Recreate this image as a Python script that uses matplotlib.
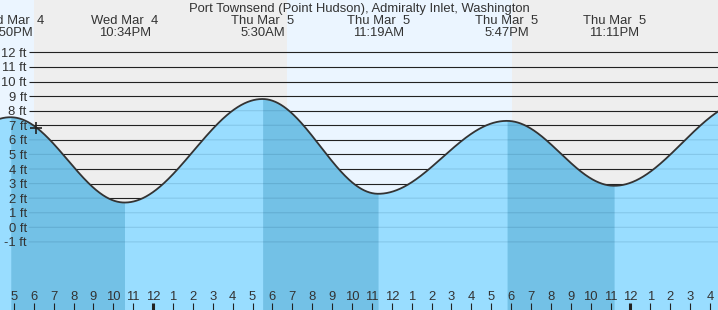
import matplotlib
matplotlib.use('Agg')
import matplotlib.pyplot as plt
import numpy as np
from datetime import datetime

plt.rcParams['font.family'] = ['Liberation Sans', 'DejaVu Sans']

# ---------------- data ----------------
title = "Port Townsend (Point Hudson), Admiralty Inlet, Washington"
extreme_times = ["2026-03-04 10:40", "2026-03-04 16:50", "2026-03-04 22:34",
                 "2026-03-05 05:30", "2026-03-05 11:19", "2026-03-05 17:47",
                 "2026-03-05 23:11", "2026-03-06 06:00"]
extreme_heights = [1.9, 7.55, 1.7, 8.8, 2.3, 7.3, 2.85, 8.7]
extreme_types = ["L", "H", "L", "H", "L", "H", "L", "H"]
sunset_times = ["2026-03-04 18:00", "2026-03-05 18:02"]
sunrise_times = ["2026-03-05 06:44", "2026-03-06 06:42"]
now_time = "2026-03-04 18:08"
view_start = "2026-03-04 16:18"
view_end = "2026-03-06 04:24"
ft_levels = list(range(-1, 13))

# ---------------- style ----------------
SKY_DAY = '#EBF5FF'
SKY_NIGHT = '#EEEEEE'
WATER_LIGHT = '#99DDFF'
WATER_DARK = '#73C1E6'
TXT = '#333333'
FS = 9.4

W, H = 718, 310
ORIGIN = datetime(2026, 3, 4)


def hrs(s):
    d = datetime.strptime(s, "%Y-%m-%d %H:%M")
    return (d - ORIGIN).total_seconds() / 3600.0


def fmt_day(s):
    d = datetime.strptime(s, "%Y-%m-%d %H:%M")
    return f"{d:%a %b} {d.day:2d}"


def fmt_time(s):
    d = datetime.strptime(s, "%Y-%m-%d %H:%M")
    return f"{d.hour % 12 or 12}:{d.minute:02d}{'AM' if d.hour < 12 else 'PM'}"


ex_t = np.array([hrs(s) for s in extreme_times])
ex_h = np.array(extreme_heights)
x0, x1 = hrs(view_start), hrs(view_end)
y0, y1 = -5.67, 15.59

# curve between successive extremes (half-cosine shape, as tide charts draw it)
t = np.linspace(x0, x1, 3000)
idx = np.clip(np.searchsorted(ex_t, t) - 1, 0, len(ex_t) - 2)
ta, tb = ex_t[idx], ex_t[idx + 1]
ha, hb = ex_h[idx], ex_h[idx + 1]
frac = (t - ta) / (tb - ta)
h = ha + (hb - ha) * (1 - np.cos(np.pi * frac)) / 2


def curve_at(x):
    return np.interp(x, t, h)


fig = plt.figure(figsize=(W / 100, H / 100), dpi=100, facecolor=SKY_DAY)
ax = fig.add_axes([0, 0, 1, 1])
ax.set_xlim(x0, x1)
ax.set_ylim(y0, y1)
ax.set_axis_off()

# night sky
for ss, sr in zip(sunset_times, sunrise_times):
    ax.axvspan(hrs(ss), hrs(sr), color=SKY_NIGHT, lw=0, zorder=0)

# grid lines
xg = x0 + (29 / W) * (x1 - x0)
for v in ft_levels:
    ax.hlines(v, xg, x1, color='#222222', lw=0.8, zorder=1)
    ax.text(x0 + (26.7 / W) * (x1 - x0), v - 0.31, f"{v} ft", ha='right',
            va='baseline', fontsize=FS, color=TXT, zorder=6)

# water
ax.fill_between(t, h, y0, color=WATER_LIGHT, lw=0, zorder=2)
for i in range(len(ex_t) - 1):
    if extreme_types[i] == "H":
        m = (t >= ex_t[i]) & (t <= ex_t[i + 1])
        if m.any():
            ax.fill_between(t[m], h[m], y0, color=WATER_DARK, lw=0, zorder=2)

for v in ft_levels:
    yy = np.where(h >= v, v, np.nan)
    keep = t >= xg
    ax.plot(t[keep], yy[keep], color='#003355', alpha=0.13, lw=0.8, zorder=3)

ax.plot(t, h, color='#333333', lw=1.3, zorder=4)

# current time marker
tn = hrs(now_time)
ax.plot([tn], [curve_at(tn)], marker='+', ms=8, mew=1.2, color='#222222', zorder=5)

# title and extreme labels
ax.text(0.5, 1 - 12 / H, title, transform=ax.transAxes, ha='center', va='baseline',
        fontsize=FS, color=TXT, zorder=6)
trans = ax.get_xaxis_transform()
for s, tx in zip(extreme_times, ex_t):
    if x0 - 1 <= tx <= x1:
        ax.text(tx, 1 - 24 / H, fmt_day(s), transform=trans, ha='center', va='baseline',
                fontsize=FS, color=TXT, zorder=6)
        ax.text(tx, 1 - 36 / H, fmt_time(s), transform=trans, ha='center', va='baseline',
                fontsize=FS, color=TXT, zorder=6)

# hour ticks
for hr in range(int(np.ceil(x0)), int(np.floor(x1)) + 1):
    lab = str(hr % 12 or 12)
    ax.text(hr, 10 / H, lab, transform=trans, ha='center', va='baseline',
            fontsize=FS, color=TXT, zorder=6)
    midnight = (hr % 24 == 0)
    ax.plot([hr, hr], [0, 7.5 / H], transform=trans, color='#222222',
            lw=2.2 if midnight else 0.8, solid_capstyle='butt', zorder=6)

fig.savefig('out.png', dpi=100, facecolor=fig.get_facecolor())
